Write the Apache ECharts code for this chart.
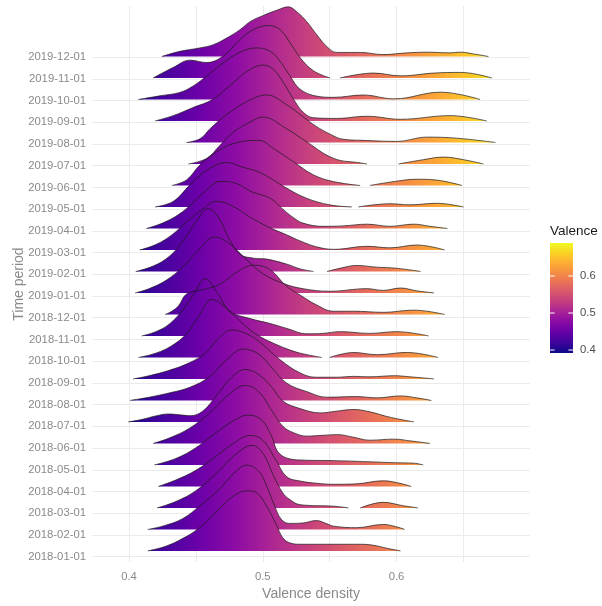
<!DOCTYPE html>
<html><head><meta charset="utf-8">
<script src="https://cdn.jsdelivr.net/npm/echarts@6/dist/echarts.min.js"></script>
<style>html,body{margin:0;padding:0;background:#fff}#c{width:602px;height:606px}</style>
</head><body><div id="c"></div>
<script>
// ---- data ----
const categories = ['2018-01-01','2018-02-01','2018-03-01','2018-04-01','2018-05-01','2018-06-01',
  '2018-07-01','2018-08-01','2018-09-01','2018-10-01','2018-11-01','2018-12-01',
  '2019-01-01','2019-02-01','2019-03-01','2019-04-01','2019-05-01','2019-06-01',
  '2019-07-01','2019-08-01','2019-09-01','2019-10-01','2019-11-01','2019-12-01'];

// [valence, density height in row units]; null = gap where density was cut
const d2018_01 = [[0.414,0],[0.428,0.23],[0.441,0.61],[0.451,1.0],[0.461,1.54],[0.473,2.3],[0.483,2.73],[0.489,2.79],[0.496,2.68],[0.503,2.07],[0.510,1.23],[0.515,0.61],[0.520,0.38],[0.528,0.31],[0.553,0.31],[0.573,0.31],[0.583,0.26],[0.593,0.12],[0.603,0]];
const d2018_02 = [[0.414,0],[0.425,0.15],[0.440,0.5],[0.453,1.1],[0.468,1.9],[0.479,2.65],[0.488,2.99],[0.497,2.7],[0.503,2.0],[0.509,1.07],[0.514,0.46],[0.520,0.28],[0.530,0.3],[0.540,0.41],[0.548,0.26],[0.553,0.15],[0.570,0.08],[0.590,0.23],[0.600,0.12],[0.606,0]];
const d2018_03 = [[0.421,0],[0.435,0.3],[0.450,0.8],[0.465,1.6],[0.480,2.5],[0.492,2.91],[0.500,2.55],[0.508,1.5],[0.515,0.7],[0.520,0.4],[0.528,0.15],[0.553,0.08],[0.564,0],null,[0.573,0],[0.590,0.26],[0.605,0.1],[0.616,0]];
const d2018_04 = [[0.422,0],[0.435,0.3],[0.450,0.75],[0.465,1.4],[0.478,2.0],[0.4905,2.37],[0.500,2.15],[0.510,1.2],[0.518,0.45],[0.528,0.25],[0.540,0.15],[0.553,0.1],[0.570,0.12],[0.590,0.26],[0.600,0.18],[0.611,0]];
const d2018_05 = [[0.419,0],[0.435,0.3],[0.450,0.8],[0.465,1.5],[0.478,2.05],[0.489,2.32],[0.499,2.1],[0.506,1.4],[0.513,0.5],[0.528,0.23],[0.553,0.2],[0.578,0.15],[0.600,0.1],[0.613,0.08],[0.620,0]];
const d2018_06 = [[0.418,0],[0.430,0.25],[0.445,0.7],[0.460,1.4],[0.475,2.3],[0.487,2.7],[0.497,2.4],[0.507,1.5],[0.515,0.8],[0.523,0.5],[0.533,0.34],[0.545,0.38],[0.556,0.41],[0.567,0.3],[0.580,0.15],[0.598,0.2],[0.610,0.12],[0.625,0]];
const d2018_07 = [[0.3995,0],[0.410,0.12],[0.420,0.28],[0.4295,0.37],[0.438,0.33],[0.4456,0.29],[0.455,0.5],[0.465,1.2],[0.477,2.1],[0.487,2.44],[0.497,2.2],[0.507,1.6],[0.515,0.97],[0.528,0.62],[0.543,0.42],[0.555,0.5],[0.568,0.58],[0.580,0.47],[0.595,0.22],[0.613,0]];
const d2018_08 = [[0.4007,0],[0.415,0.15],[0.430,0.35],[0.445,0.6],[0.460,1.1],[0.473,1.9],[0.4855,2.39],[0.497,2.15],[0.507,1.5],[0.518,0.8],[0.533,0.41],[0.548,0.15],[0.570,0.18],[0.585,0.12],[0.603,0.21],[0.615,0.12],[0.626,0]];
const d2018_09 = [[0.403,0],[0.415,0.15],[0.430,0.4],[0.445,0.75],[0.457,1.2],[0.467,1.9],[0.477,2.28],[0.488,2.1],[0.498,1.7],[0.513,0.89],[0.528,0.28],[0.540,0.08],[0.555,0.08],[0.568,0.12],[0.580,0.1],[0.598,0.15],[0.610,0.1],[0.628,0]];
const d2018_10 = [[0.407,0],[0.420,0.2],[0.432,0.55],[0.443,1.1],[0.452,1.9],[0.462,2.7],[0.4755,2.12],[0.490,1.3],[0.500,0.9],[0.508,0.66],[0.518,0.4],[0.528,0.2],[0.544,0],null,[0.550,0],[0.568,0.23],[0.585,0.13],[0.608,0.23],[0.631,0]];
const d2018_11 = [[0.4095,0],[0.420,0.2],[0.430,0.55],[0.440,1.2],[0.448,1.9],[0.457,2.66],[0.466,2.0],[0.4755,1.15],[0.4905,0.81],[0.5055,0.58],[0.518,0.35],[0.533,0.1],[0.545,0.12],[0.558,0.2],[0.580,0.12],[0.600,0.2],[0.624,0]];
const d2018_12 = [[0.427,0],[0.432,0.15],[0.437,0.4],[0.443,0.95],[0.455,1.15],[0.468,1.4],[0.480,1.95],[0.493,2.29],[0.505,2.1],[0.518,1.3],[0.528,0.9],[0.540,0.45],[0.553,0.15],[0.568,0.15],[0.590,0.1],[0.613,0.2],[0.636,0]];
const d2019_01 = [[0.4045,0],[0.415,0.2],[0.428,0.6],[0.440,1.2],[0.452,2.0],[0.464,2.6],[0.475,2.3],[0.487,1.6],[0.500,0.9],[0.515,0.45],[0.530,0.2],[0.550,0.08],[0.578,0.2],[0.590,0.12],[0.603,0.23],[0.615,0.1],[0.628,0]];
const d2019_02 = [[0.405,0],[0.418,0.25],[0.430,0.7],[0.440,1.4],[0.450,2.3],[0.459,2.92],[0.467,2.5],[0.475,1.5],[0.483,0.8],[0.493,0.62],[0.503,0.575],[0.518,0.34],[0.528,0.12],[0.538,0],null,[0.548,0],[0.560,0.18],[0.570,0.28],[0.585,0.2],[0.600,0.15],[0.618,0]];
const d2019_03 = [[0.408,0],[0.420,0.25],[0.432,0.7],[0.443,1.3],[0.455,1.9],[0.4656,2.26],[0.477,2.05],[0.490,1.55],[0.500,1.2],[0.508,0.96],[0.518,0.7],[0.528,0.42],[0.540,0.15],[0.553,0.03],[0.578,0.17],[0.595,0.1],[0.615,0.23],[0.636,0]];
const d2019_04 = [[0.413,0],[0.425,0.25],[0.437,0.65],[0.448,1.2],[0.458,1.8],[0.468,2.19],[0.480,2.1],[0.492,1.7],[0.5055,1.41],[0.515,0.9],[0.523,0.5],[0.530,0.25],[0.545,0.1],[0.560,0.12],[0.578,0.2],[0.595,0.1],[0.613,0.2],[0.625,0.1],[0.638,0]];
const d2019_05 = [[0.4194,0],[0.433,0.26],[0.4456,1.03],[0.458,1.7],[0.473,2.07],[0.485,1.85],[0.498,1.6],[0.518,0.87],[0.533,0.4],[0.550,0.1],[0.5665,0],null,[0.5715,0],[0.595,0.15],[0.610,0.1],[0.630,0.17],[0.650,0]];
const d2019_06 = [[0.432,0],[0.443,0.26],[0.453,0.95],[0.4656,1.56],[0.478,1.95],[0.497,2.1],[0.508,1.72],[0.523,1.1],[0.538,0.49],[0.553,0.18],[0.5728,0],null,[0.580,0],[0.600,0.2],[0.615,0.29],[0.630,0.25],[0.649,0]];
const d2019_07 = [[0.4444,0],[0.458,0.26],[0.468,0.87],[0.478,1.48],[0.4905,1.95],[0.500,2.18],[0.518,1.63],[0.533,1.02],[0.553,0.26],[0.573,0.05],[0.578,0],null,[0.6015,0],[0.620,0.2],[0.635,0.32],[0.650,0.2],[0.665,0]];
const d2019_08 = [[0.443,0],[0.453,0.17],[0.4606,0.64],[0.473,1.3],[0.488,1.9],[0.503,2.21],[0.518,1.75],[0.530,1.2],[0.540,0.75],[0.550,0.4],[0.560,0.15],[0.575,0.1],[0.600,0.05],[0.623,0.25],[0.645,0.2],[0.674,0]];
const d2019_09 = [[0.4194,0],[0.433,0.25],[0.448,0.63],[0.463,1.02],[0.478,1.79],[0.4905,2.4],[0.5005,2.6],[0.508,2.4],[0.5154,1.79],[0.5229,1.02],[0.5304,0.4],[0.538,0.15],[0.555,0.12],[0.578,0.22],[0.603,0.08],[0.640,0.25],[0.6675,0]];
const d2019_10 = [[0.407,0],[0.423,0.17],[0.438,0.33],[0.448,0.63],[0.458,1.09],[0.4706,1.71],[0.483,2.2],[0.4955,2.4],[0.5055,2.24],[0.5129,1.78],[0.5204,1.09],[0.5279,0.48],[0.540,0.16],[0.553,0.1],[0.575,0.21],[0.598,0.03],[0.633,0.34],[0.6625,0]];
const d2019_11 = [[0.418,0],[0.433,0.49],[0.4456,0.83],[0.458,0.72],[0.4706,1.03],[0.483,1.79],[0.493,2.25],[0.5042,2.44],[0.5129,2.25],[0.5204,1.64],[0.5279,0.95],[0.5378,0.34],[0.5503,0],null,[0.5578,0],[0.583,0.23],[0.603,0.1],[0.628,0.23],[0.648,0.26],[0.6713,0]];
const d2019_12 = [[0.4245,0],[0.438,0.24],[0.453,0.4],[0.463,0.55],[0.473,0.86],[0.483,1.25],[0.4905,1.62],[0.500,1.9],[0.5105,2.15],[0.519,2.31],[0.5254,2.08],[0.5329,1.62],[0.5404,1.01],[0.5478,0.47],[0.5553,0.19],[0.573,0.19],[0.590,0.09],[0.608,0.17],[0.623,0.2],[0.640,0.17],[0.648,0.2],[0.6575,0.12],[0.6687,0]];

const ridges = [d2018_01,d2018_02,d2018_03,d2018_04,d2018_05,d2018_06,d2018_07,d2018_08,d2018_09,d2018_10,d2018_11,d2018_12,
  d2019_01,d2019_02,d2019_03,d2019_04,d2019_05,d2019_06,d2019_07,d2019_08,d2019_09,d2019_10,d2019_11,d2019_12];

const xTicks = [0.4, 0.5, 0.6];
const legendTicks = [0.4, 0.5, 0.6];
const colorRange = [0.392, 0.689];
const plasma = ['#0d0887','#41049d','#6a00a8','#8f0da4','#b12a90','#cc4778','#e16462','#f2844b','#fca636','#fcce25','#f0f921'];

// ---- layout ----
const FONT = 'Liberation Sans, Arial, sans-serif';
const X_MIN = 0.3723, X_MAX = 0.6998, Y_MIN = -0.52, Y_MAX = 25.35;
const H = 606;
const G0 = {left: 92, right: 72, top: 6, bottom: 38};
const k = (H - G0.top - G0.bottom) / (Y_MAX - Y_MIN);
const g1Bottom = G0.bottom + (0 - Y_MIN) * k;
const g1Top = G0.top + (Y_MAX - (categories.length - 1)) * k;

const stops = plasma.map((c, i) => ({offset: i / (plasma.length - 1), color: c}));

const BAR = {x: 550, y: 243, w: 23, h: 110};
const valToBarY = v => BAR.y + BAR.h - (v - colorRange[0]) / (colorRange[1] - colorRange[0]) * BAR.h;
const legendGraphics = [
  {type: 'text', x: 550, y: 231, style: {text: 'Valence', fill: '#1a1a1a', font: '13.5px ' + FONT, align: 'left', verticalAlign: 'middle', textAlign: 'left', textVerticalAlign: 'middle'}},
  {type: 'rect', shape: {x: BAR.x, y: BAR.y, width: BAR.w, height: BAR.h}, style: {fill: new echarts.graphic.LinearGradient(0, 1, 0, 0, stops)}}
];
legendTicks.forEach(v => {
  const y = valToBarY(v);
  legendGraphics.push(
    {type: 'line', shape: {x1: BAR.x, y1: y, x2: BAR.x + BAR.w / 5, y2: y}, style: {stroke: '#ffffff', lineWidth: 1}},
    {type: 'line', shape: {x1: BAR.x + BAR.w * 4 / 5, y1: y, x2: BAR.x + BAR.w, y2: y}, style: {stroke: '#ffffff', lineWidth: 1}},
    {type: 'text', x: 580, y: y, style: {text: v.toFixed(1), fill: '#4d4d4d', font: '11.3px ' + FONT, align: 'left', verticalAlign: 'middle', textAlign: 'left', textVerticalAlign: 'middle'}}
  );
});

const series = [];
for (let i = categories.length - 1; i >= 0; i--) {
  series.push({
    type: 'line', name: categories[i], xAxisIndex: 0, yAxisIndex: 0,
    data: ridges[i].map(p => p ? [p[0], i + p[1]] : ['-', '-']),
    smooth: 0.4, symbol: 'none', showSymbol: false, clip: false, silent: true, connectNulls: false,
    lineStyle: {color: '#1a1a1a', width: 0.7},
    areaStyle: {origin: i, opacity: 1, color: '#8f0da4'}
  });
}

const chart = echarts.init(document.getElementById('c'), null, {renderer: 'canvas'});
const axisLabelColor = '#8a8a8a';
chart.setOption({
  animation: false,
  backgroundColor: '#ffffff',
  grid: [
    {left: G0.left, right: G0.right, top: G0.top, bottom: G0.bottom},
    {left: G0.left, right: G0.right, top: g1Top, bottom: g1Bottom}
  ],
  xAxis: [
    {type: 'value', gridIndex: 0, min: X_MIN, max: X_MAX,
     name: 'Valence density', nameLocation: 'middle', nameGap: 22,
     nameTextStyle: {color: axisLabelColor, fontSize: 14, fontFamily: FONT},
     axisLine: {show: false}, axisTick: {show: false},
     axisLabel: {color: axisLabelColor, fontSize: 11.3, fontFamily: FONT, margin: 9, showMinLabel: false, showMaxLabel: false,
       formatter: v => xTicks.some(t => Math.abs(t - v) < 1e-6) ? v.toFixed(1) : ''},
     splitLine: {show: true, showMinLine: false, showMaxLine: false, lineStyle: {color: '#ebebeb', width: 1}}},
    {type: 'value', gridIndex: 1, min: X_MIN, max: X_MAX, show: false}
  ],
  yAxis: [
    {type: 'value', gridIndex: 0, min: Y_MIN, max: Y_MAX,
     name: 'Time period', nameLocation: 'middle', nameGap: 66, nameRotate: 90,
     nameTextStyle: {color: axisLabelColor, fontSize: 14, fontFamily: FONT},
     axisLine: {show: false}, axisTick: {show: false}, axisLabel: {show: false}, splitLine: {show: false}},
    {type: 'category', gridIndex: 1, data: categories, boundaryGap: false,
     axisLine: {show: false}, axisTick: {show: false},
     axisLabel: {interval: 0, color: axisLabelColor, fontSize: 11.3, fontFamily: FONT, margin: 6},
     splitLine: {show: true, interval: 0, lineStyle: {color: '#ebebeb', width: 1}}}
  ],
  graphic: legendGraphics,
  series: series
});

const px0 = chart.convertToPixel({xAxisIndex: 0}, colorRange[0]);
const px1 = chart.convertToPixel({xAxisIndex: 0}, colorRange[1]);
chart.setOption({
  series: series.map(() => ({areaStyle: {color: new echarts.graphic.LinearGradient(px0, 0, px1, 0, stops, true)}}))
});
</script></body></html>
